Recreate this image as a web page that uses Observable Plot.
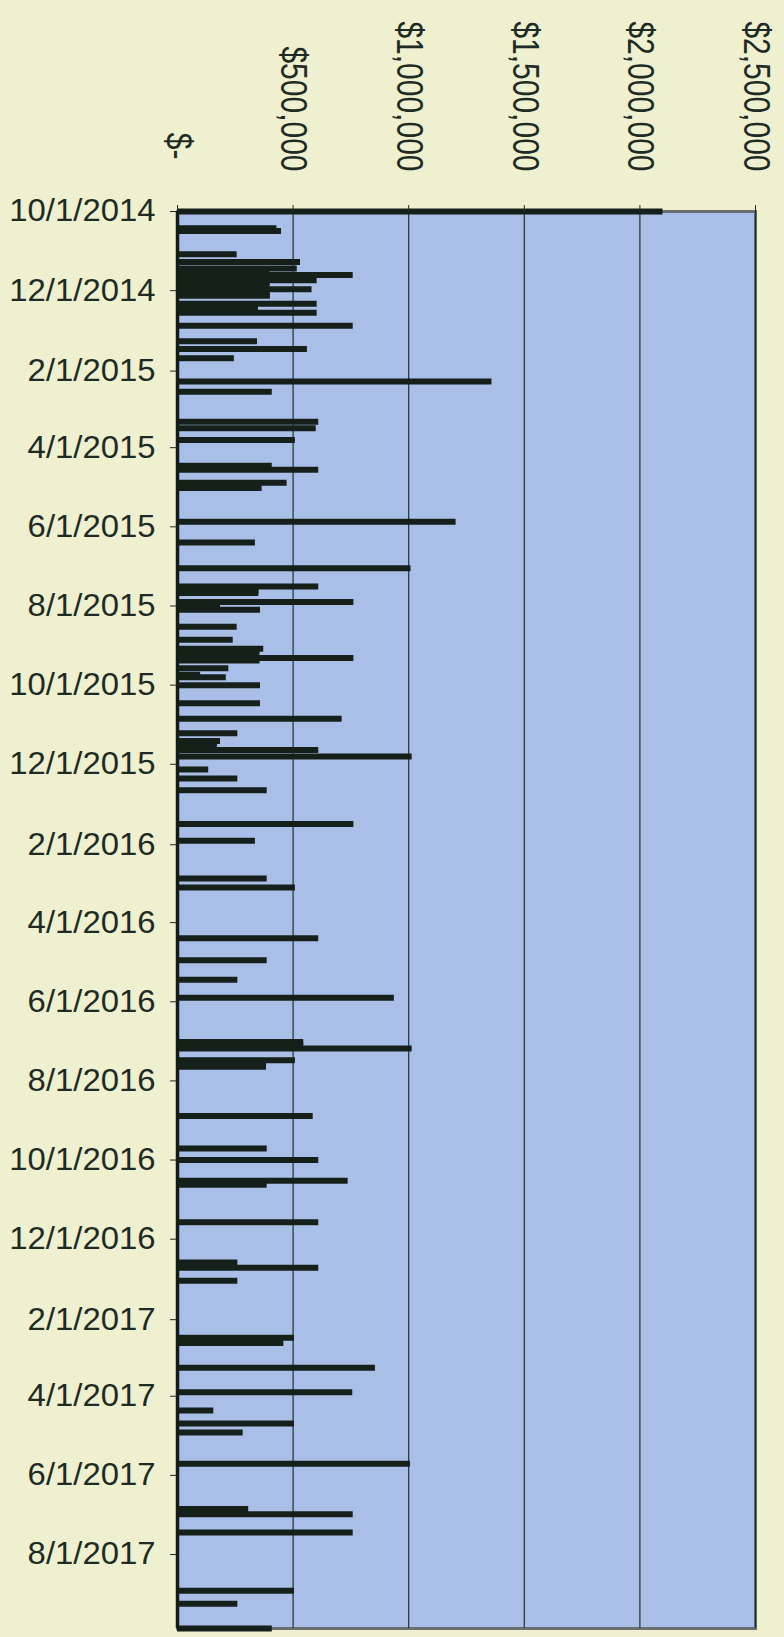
<!DOCTYPE html>
<html>
<head>
<meta charset="utf-8">
<script src="https://cdn.jsdelivr.net/npm/d3@7"></script>
<script src="https://cdn.jsdelivr.net/npm/@observablehq/plot@0.6"></script>
<style>
  html, body { margin: 0; padding: 0; background: #eef0cf; }
  #chart { width: 784px; height: 1637px; }
</style>
</head>
<body>
<div id="chart"></div>
<script>
// ---- data ----
const dates = [
  "2014-10-01","2014-10-14","2014-10-16","2014-11-03","2014-11-09","2014-11-14","2014-11-16","2014-11-19",
  "2014-11-21","2014-11-23","2014-11-25","2014-11-27","2014-11-30","2014-12-02","2014-12-05","2014-12-11",
  "2014-12-15","2014-12-18","2014-12-28","2015-01-09","2015-01-15","2015-01-22","2015-02-09","2015-02-17",
  "2015-03-12","2015-03-17","2015-03-26","2015-04-15","2015-04-18","2015-04-28","2015-05-02","2015-05-28",
  "2015-06-13","2015-07-03","2015-07-17","2015-07-20","2015-07-22","2015-07-29","2015-08-01","2015-08-04",
  "2015-08-17","2015-08-27","2015-09-03","2015-09-07","2015-09-10","2015-09-12","2015-09-18","2015-09-23",
  "2015-09-25","2015-10-01","2015-10-15","2015-10-27","2015-11-07","2015-11-13","2015-11-15","2015-11-17",
  "2015-11-20","2015-11-25","2015-12-05","2015-12-12","2015-12-21","2016-01-16","2016-01-29","2016-02-27",
  "2016-03-05","2016-04-13","2016-04-30","2016-05-15","2016-05-29","2016-07-02","2016-07-04","2016-07-07",
  "2016-07-16","2016-07-19","2016-07-21","2016-08-28","2016-09-22","2016-10-01","2016-10-17","2016-10-20",
  "2016-11-18","2016-12-19","2016-12-23","2017-01-02","2017-02-15","2017-02-19","2017-03-10","2017-03-29",
  "2017-04-12","2017-04-22","2017-04-29","2017-05-23","2017-06-27","2017-07-01","2017-07-15","2017-08-29",
  "2017-09-08","2017-09-27"
];
const amounts = [
  2100000, 430000, 450000, 258000, 532000, 518000, 400000, 760000,
  400000, 604000, 400000, 400000, 582000, 400000, 402000, 604000,
  350000, 604000, 760000, 346000, 562000, 246000, 1360000, 410000,
  611000, 600000, 510000, 410000, 611000, 474000, 366000, 1205000,
  337000, 1010000, 611000, 352000, 352000, 763000, 186000, 359000,
  258000, 241000, 373000, 357000, 763000, 357000, 222000, 100000,
  211000, 359000, 359000, 712000, 261000, 186000, 172000, 172000,
  611000, 1015000, 135000, 261000, 388000, 763000, 337000, 388000,
  510000, 611000, 388000, 261000, 938000, 546000, 546000, 1015000,
  510000, 385000, 385000, 587000, 388000, 611000, 738000, 388000,
  611000, 261000, 611000, 261000, 506000, 460000, 856000, 758000,
  157000, 506000, 284000, 1008000, 308000, 760000, 760000, 506000,
  261000, 410000
];
const dateTickLabels = [
  "10/1/2014","12/1/2014","2/1/2015","4/1/2015","6/1/2015","8/1/2015","10/1/2015","12/1/2015",
  "2/1/2016","4/1/2016","6/1/2016","8/1/2016","10/1/2016","12/1/2016","2/1/2017","4/1/2017",
  "6/1/2017","8/1/2017"
];
const valueTicks = [0, 500000, 1000000, 1500000, 2000000, 2500000];
const valueTickLabels = ["$-", "$500,000", "$1,000,000", "$1,500,000", "$2,000,000", "$2,500,000"];
const dateDomain = ["2014-10-01", "2017-09-27"];

// ---- build ----
const parseMDY = s => { const [m, d, y] = s.split("/").map(Number); return new Date(Date.UTC(y, m - 1, d)); };
const fmtMDY = d => `${d.getUTCMonth() + 1}/${d.getUTCDate()}/${d.getUTCFullYear()}`;
const data = dates.map((d, i) => ({date: new Date(d + "T00:00:00Z"), amount: amounts[i]}));
const dateTicks = dateTickLabels.map(parseMDY);
const labelData = valueTicks.map((v, i) => ({v, label: valueTickLabels[i]}));

const ink = "#1e2b24";
const chart = Plot.plot({
  width: 784,
  height: 1637,
  marginLeft: 177,
  marginRight: 29,
  marginTop: 211,
  marginBottom: 9,
  style: {background: "#eef0cf", color: ink, fontFamily: "'Liberation Sans', Arial, sans-serif"},
  x: {domain: [0, 2500000], axis: null},
  y: {type: "utc", domain: dateDomain.map(d => new Date(d + "T00:00:00Z")), reverse: true, axis: null},
  marks: [
    Plot.frame({fill: "#aabfe7", stroke: "#6b6e70", strokeWidth: 3}),
    Plot.gridX(valueTicks, {stroke: "#22302c", strokeOpacity: 1, strokeWidth: 1.2}),
    Plot.ruleY(data, {y: "date", x1: 0, x2: "amount", stroke: "#16201b", strokeWidth: 6}),
    Plot.ruleX([0], {stroke: "#141c18", strokeWidth: 3.5}),
    Plot.axisY({ticks: dateTicks, tickFormat: fmtMDY, tickSize: 7, tickPadding: 15, fontSize: 31, anchor: "left"}),
    Plot.axisX({anchor: "top", ticks: valueTicks, tickSize: 7, tickFormat: () => ""}),
    Plot.text(labelData.filter(d => d.v > 0), {
      x: "v", text: "label", frameAnchor: "top", dy: -40, rotate: 90,
      textAnchor: "end", lineAnchor: "middle", fontSize: 30, fill: ink
    }),
    Plot.text(labelData.filter(d => d.v === 0), {
      x: "v", text: "label", frameAnchor: "top", dy: -52, rotate: 90,
      textAnchor: "end", lineAnchor: "middle", fontSize: 30, fill: ink
    })
  ]
});
// widen the glyphs a little, as in the photographed original
d3.select(chart).selectAll('g[aria-label="text"] text').each(function () {
  const t = this.getAttribute("transform");
  if (t && t.includes("rotate")) this.setAttribute("transform", t + " scale(1,1.22)");
});
d3.select(chart).selectAll('g[aria-label="y-axis tick label"] text').each(function () {
  const t = this.getAttribute("transform");
  if (t) this.setAttribute("transform", t + " scale(1.06,1)");
});
document.getElementById("chart").appendChild(chart);
</script>
</body>
</html>
